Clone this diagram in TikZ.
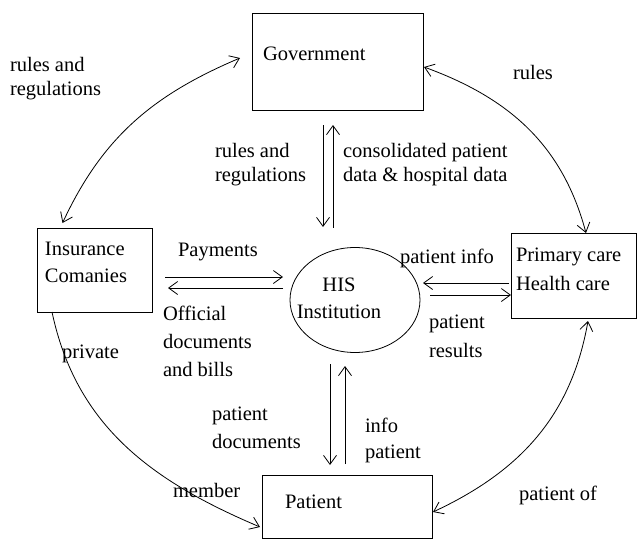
\documentclass[tikz,border=0pt]{standalone}
\usepackage{fontspec}
\setmainfont{Liberation Serif}
\usetikzlibrary{arrows.meta,shapes.geometric}
\newcommand{\tp}{\rule{0pt}{15pt}}
\tikzset{
  box/.style={draw, rectangle, line width=0.8pt, inner sep=0pt, outer sep=0pt},
  lbl/.style={anchor=north west, inner sep=0pt, outer sep=0pt, align=left, font=\fontsize{20.5}{24}\selectfont},
  arr/.style={line width=0.8pt, -{Straight Barb[length=9pt,width=13pt]}},
  darr/.style={line width=0.8pt, {Straight Barb[length=9pt,width=13pt]}-{Straight Barb[length=9pt,width=13pt]}}
}
\begin{document}
\begin{tikzpicture}[x=1pt,y=1pt]
\useasboundingbox[fill=white] (0,0) rectangle (638,-541);
% boxes
\node[box, minimum width=171, minimum height=97] (gov) at (337.5,-61.5) {};
\node[box, minimum width=115, minimum height=84] (ins) at (94.5,-270) {};
\node[box, minimum width=125, minimum height=85] (prim) at (573.5,-275.5) {};
\node[box, minimum width=170, minimum height=63] (pat) at (347,-506.5) {};
\node[draw, ellipse, line width=0.8pt, inner sep=0pt, outer sep=0pt, minimum width=130, minimum height=105] (his) at (355,-300) {};
% box texts
\node[lbl] (govt) at (263,-45) {\tp Government};
\node[lbl, font=\fontsize{20.5}{27}\selectfont] (inst) at (45,-240) {\tp Insurance\\Comanies};
\node[lbl, font=\fontsize{20.5}{29}\selectfont] (primt) at (516,-246) {\tp Primary care\\Health care};
\node[lbl] (patt) at (285,-493) {\tp Patient};
\node[lbl, anchor=north, align=center, font=\fontsize{20.5}{27}\selectfont] (hist) at (339,-276) {\tp HIS\\Institution};
% labels
\node[lbl] (l1) at (10,-56) {\tp rules and\\regulations};
\node[lbl] (l2) at (513,-64) {\tp rules};
\node[lbl] (l3) at (215,-142) {\tp rules and\\regulations};
\node[lbl] (l4) at (343,-142) {\tp consolidated patient\\data \& hospital data};
\node[lbl] (l5) at (178,-241) {\tp Payments};
\node[lbl, font=\fontsize{20.5}{28}\selectfont] (l6) at (163,-305) {\tp Official\\documents\\and bills};
\node[lbl] (l7) at (62,-343) {\tp private};
\node[lbl] (l8) at (400,-248) {\tp patient info};
\node[lbl, font=\fontsize{20.5}{29}\selectfont] (l9) at (429,-313) {\tp patient\\results};
\node[lbl, font=\fontsize{20.5}{28}\selectfont] (l10) at (212,-405) {\tp patient\\documents};
\node[lbl, font=\fontsize{20.5}{26}\selectfont] (l11) at (365,-417) {\tp info\\patient};
\node[lbl] (l12) at (173,-482) {\tp member};
\node[lbl] (l13) at (519,-485) {\tp patient of};
% curved connectors
\draw[darr] ([xshift=-32pt,yshift=5pt]ins.north) to[out=65,in=203] ([xshift=-12pt,yshift=3.5pt]gov.west);
\draw[darr] ([xshift=1pt,yshift=-5.5pt]gov.east) to[out=-20,in=105] ([xshift=12.5pt]prim.north);
\draw[arr] ([xshift=-42.5pt]ins.south) to[out=-78,in=157] ([xshift=-2pt,yshift=-20.5pt]pat.west);
\draw[darr] ([xshift=14.5pt,yshift=-3pt]prim.south) to[out=260,in=25] ([xshift=1pt,yshift=-5.5pt]pat.east);
% straight connectors
\draw[arr] ([xshift=-14.5pt,yshift=-15pt]gov.south) -- ([xshift=-32pt,yshift=20.5pt]his.north);
\draw[arr] ([xshift=-22pt,yshift=20pt]his.north) -- ([xshift=-4.5pt,yshift=-15pt]gov.south);
\draw[arr] ([xshift=13pt,yshift=-7pt]ins.east) -- ([xshift=-7pt,yshift=23pt]his.west);
\draw[arr] ([xshift=-7pt,yshift=12pt]his.west) -- ([xshift=16pt,yshift=-18pt]ins.east);
\draw[arr] ([xshift=-2pt,yshift=-7.5pt]prim.west) -- ([xshift=3pt,yshift=17pt]his.east);
\draw[arr] ([xshift=10pt,yshift=5pt]his.east) -- ([yshift=-19.5pt]prim.west);
\draw[arr] ([xshift=-25pt,yshift=-11.5pt]his.south) -- ([xshift=-17pt,yshift=10pt]pat.north);
\draw[arr] ([xshift=-2pt,yshift=11pt]pat.north) -- ([xshift=-10pt,yshift=-13.5pt]his.south);
\end{tikzpicture}
\end{document}
